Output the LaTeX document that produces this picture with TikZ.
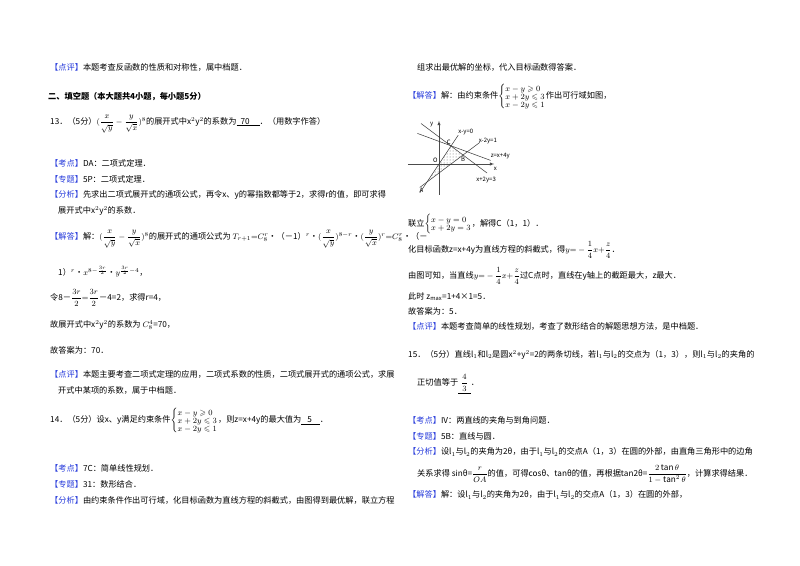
\documentclass[tikz,border=0pt]{standalone}
\usepackage{amsmath,amssymb}
\usepackage{fontspec}
\setmainfont{Noto Sans CJK SC}
\usetikzlibrary{patterns}
\definecolor{tagblue}{RGB}{40,60,220}
\newcommand\tg[1]{{\color{tagblue}【#1】}}
\newcommand\fsz{\fontsize{8.2}{10}\selectfont}
\newcommand\sys[1]{$\left\{\renewcommand\arraystretch{0.8}\scriptstyle\begin{array}{@{}l@{}}#1\end{array}\right.$}
\tikzset{txt/.style={anchor=west,inner sep=0pt,font=\fsz},
  ax/.style={draw=black!70,line width=0.5pt},
  gl/.style={draw=black!80,line width=0.5pt},
  gt/.style={inner sep=0pt,font=\fontsize{6}{6}\selectfont\itshape}}
\begin{document}
\begin{tikzpicture}[x=1pt,y=-1pt]
\useasboundingbox[fill=white] (0,0) rectangle (800,565);
% left column
\node[txt] (a1) at (50,67) {\tg{点评}本题考查反函数的性质和对称性，属中档题．};
\node[txt] (a2) at (48,97) {\textbf{二、填空题（本大题共4小题，每小题5分）}};
\node[txt] (a3) at (50,124) {13．（5分）$(\dfrac{x}{\sqrt{y}}-\dfrac{y}{\sqrt{x}})^{8}$的展开式中x$^2$y$^2$的系数为\underline{\hspace{4pt}70\hspace{10pt}}．（用数字作答）};
\node[txt] (a4) at (50,163) {\tg{考点}DA：二项式定理．};
\node[txt] (a5) at (50,179) {\tg{专题}5P：二项式定理．};
\node[txt] (a6) at (50,195) {\tg{分析}先求出二项式展开式的通项公式，再令x、y的幂指数都等于2，求得r的值，即可求得};
\node[txt] (a7) at (58,211) {展开式中x$^2$y$^2$的系数．};
\node[txt] (a8) at (50,239) {\tg{解答}解：$(\dfrac{x}{\sqrt{y}}-\dfrac{y}{\sqrt{x}})^{8}$的展开式的通项公式为 $T_{r+1}{=}C_8^r$•（－1）$^r$•$(\dfrac{x}{\sqrt{y}})^{8-r}$•$(\dfrac{y}{\sqrt{x}})^{r}{=}C_8^r$•（－};
\node[txt] (a9) at (58,272) {1）$^r$•$x^{8-\frac{3r}{2}}$•$y^{\frac{3r}{2}-4}$，};
\node[txt] (a10) at (50,298) {令8－$\dfrac{3r}{2}{=}\dfrac{3r}{2}$－4=2，求得r=4，};
\node[txt] (a11) at (50,325) {故展开式中x$^2$y$^2$的系数为 $C_8^4$=70，};
\node[txt] (a12) at (50,350) {故答案为：70．};
\node[txt] (a13) at (50,374) {\tg{点评}本题主要考查二项式定理的应用，二项式系数的性质，二项式展开式的通项公式，求展};
\node[txt] (a14) at (58,390) {开式中某项的系数，属于中档题．};
\node[txt] (a15) at (50,421) {14．（5分）设x、y满足约束条件\sys{x-y\geqslant0\\x+2y\leqslant3\\x-2y\leqslant1}，则z=x+4y的最大值为\underline{\hspace{6pt}5\hspace{8pt}}．};
\node[txt] (a16) at (50,468) {\tg{考点}7C：简单线性规划．};
\node[txt] (a17) at (50,484) {\tg{专题}31：数形结合．};
\node[txt] (a18) at (50,500) {\tg{分析}由约束条件作出可行域，化目标函数为直线方程的斜截式，由图得到最优解，联立方程};
% right column
\node[txt] (b1) at (417,67) {组求出最优解的坐标，代入目标函数得答案．};
\node[txt] (b2) at (408,97) {\tg{解答}解：由约束条件\sys{x-y\geqslant0\\x+2y\leqslant3\\x-2y\leqslant1}作出可行域如图，};
% graph
\begin{scope}[shift={(439,164)},x=12pt,y=18pt]
\coordinate (O) at (0,0); \coordinate (A) at (-1,-1);
\coordinate (C) at (1,1); \coordinate (B) at (2,0.5);
\fill[pattern=dots,pattern color=black!60] (A) -- (C) -- (B) -- cycle;
\draw[ax,-latex] (-2.6,0) -- (4.6,0) coordinate (xe);
\draw[ax,-latex] (0,-1.7) -- (0,2.4) coordinate (ye);
\draw[gl] (-1.6,-1.6) -- (1.6,1.6) coordinate (l1);
\draw[gl] (-1.6,-1.3) -- (3.4,1.2) coordinate (l2);
\draw[gl] (-1.5,2.25) -- (4,-0.5) coordinate (l3);
\draw[gl] (-1.8,1.7) -- (4.3,0.2) coordinate (l4);
\node[gt,anchor=south west] (t1) at (l1) {x-y=0};
\node[gt,anchor=west] (t2) at (3.3,1.25) {x-2y=1};
\node[gt,anchor=north west] (t3) at (3.1,-0.7) {x+2y=3};
\node[gt,anchor=west] (t4) at (4.3,0.45) {z=x+4y};
\node[gt] (ty) at (-0.6,2.2) {y};
\node[gt] (tx) at (4.7,-0.25) {x};
\node[gt,anchor=south east] (tO) at (-0.1,0.05) {O};
\node[gt,anchor=south east] (tC) at (1,1.05) {C};
\node[gt,anchor=north] (tB) at (2,0.4) {B};
\node[gt,anchor=north east] (tA) at (-1.3,-1.3) {A};
\end{scope}
\node[txt] (b3) at (408,224) {联立$\left\{\renewcommand\arraystretch{0.8}\scriptstyle\begin{array}{@{}l@{}}x-y=0\\x+2y=3\end{array}\right.$，解得C（1，1）．};
\node[txt] (b4) at (408,250) {化目标函数z=x+4y为直线方程的斜截式，得$y{=}-\dfrac14x{+}\dfrac{z}{4}$．};
\node[txt] (b5) at (408,276) {由图可知，当直线$y{=}-\dfrac14x{+}\dfrac{z}{4}$过C点时，直线在y轴上的截距最大，z最大．};
\node[txt] (b6) at (408,297) {此时 z$_{\max}$=1+4×1=5．};
\node[txt] (b7) at (408,311) {故答案为：5．};
\node[txt] (b8) at (408,326) {\tg{点评}本题考查简单的线性规划，考查了数形结合的解题思想方法，是中档题．};
\node[txt] (b9) at (408,355) {15．（5分）直线l$_1$和l$_2$是圆x$^2$+y$^2$=2的两条切线，若l$_1$与l$_2$的交点为（1，3），则l$_1$与l$_2$的夹角的};
\node[txt] (b10) at (417,384) {正切值等于\underline{\hspace{3pt}$\dfrac43$\hspace{3pt}}．};
\node[txt] (b11) at (408,420) {\tg{考点}IV：两直线的夹角与到角问题．};
\node[txt] (b12) at (408,436) {\tg{专题}5B：直线与圆．};
\node[txt] (b13) at (408,452) {\tg{分析}设l$_1$与l$_2$的夹角为2θ，由于l$_1$与l$_2$的交点A（1，3）在圆的外部，由直角三角形中的边角};
\node[txt] (b14) at (417,474) {关系求得 sinθ=$\dfrac{r}{OA}$的值，可得cosθ、tanθ的值，再根据tan2θ=$\dfrac{2\tan\theta}{1-\tan^2\theta}$，计算求得结果．};
\node[txt] (b15) at (408,495) {\tg{解答}解：设l$_1$与l$_2$的夹角为2θ，由于l$_1$与l$_2$的交点A（1，3）在圆的外部，};
\end{tikzpicture}
\end{document}
